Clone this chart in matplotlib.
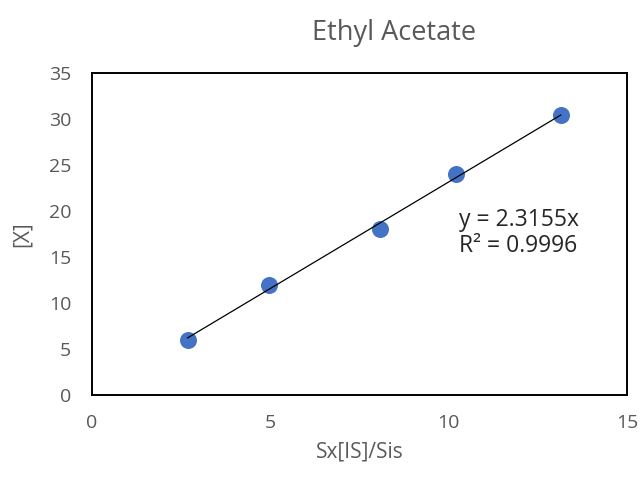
import numpy as np
import matplotlib.pyplot as plt

plt.rcParams['font.family'] = ['Open Sans', 'DejaVu Sans']

# calibration points
ratio = [2.68, 4.97, 8.08, 10.2, 13.14]
conc = [6, 12, 18, 24, 30.4]
slope = 2.3155
r2 = 0.9996

grey = '#595959'

fig = plt.figure(figsize=(6.43, 4.79), dpi=100)
ax = fig.add_axes([92/643, 1-395/479, (627-92)/643, (395-73)/479])

ax.scatter(ratio, conc, s=150, color='#4472C4', zorder=3, linewidths=0)
xfit = np.array([min(ratio), max(ratio)])
ax.plot(xfit, slope*xfit, color='black', lw=0.9, zorder=4)

ax.set_xlim(0, 15)
ax.set_ylim(0, 35)
ax.set_xticks([0, 5, 10, 15])
ax.set_yticks(range(0, 36, 5))
ax.tick_params(length=0, labelsize=14, labelcolor=grey)
ax.tick_params(axis='x', pad=14)
ax.tick_params(axis='y', pad=15)
for s in ax.spines.values():
    s.set_linewidth(1.4)
    s.set_color('black')

ax.set_xlabel('Sx[IS]/Sis', fontsize=15, color=grey)
ax.set_ylabel('[X]', fontsize=15, color=grey)
ax.xaxis.set_label_coords(0.5, -0.145)
ax.yaxis.set_label_coords(-0.11, 0.5)

fig.text(394/643, 1-40/479, 'Ethyl Acetate', fontsize=19.5, color=grey,
         ha='center', va='baseline')

ax.text(10.3, 17.6, 'y = %.4fx\nR² = %.4f' % (slope, r2), fontsize=16.5,
        color='#262626', ha='left', va='center', linespacing=1.1)

fig.savefig('out.png', dpi=100)
